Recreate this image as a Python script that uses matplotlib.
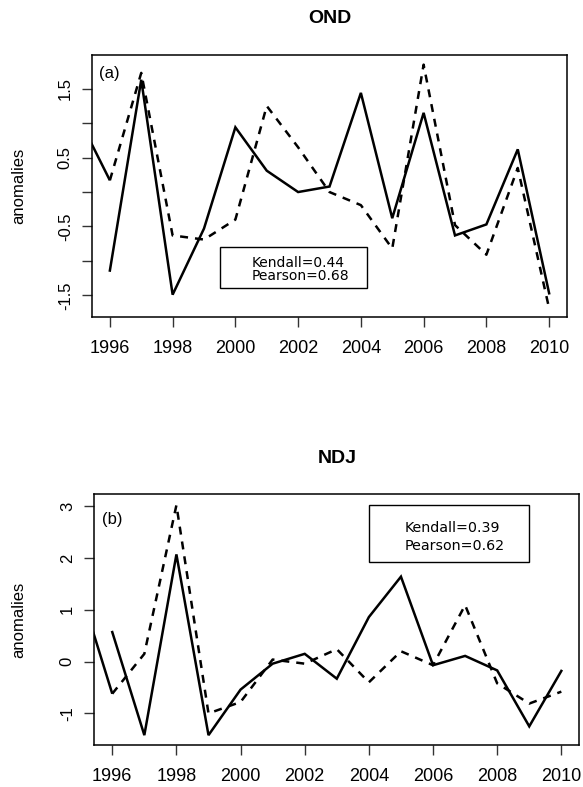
import matplotlib
matplotlib.use("Agg")
import matplotlib.pyplot as plt
from matplotlib.patches import Rectangle
import numpy as np

plt.rcParams['font.family'] = ['Liberation Sans', 'DejaVu Sans']

# ---------------- data ----------------
years = list(range(1996, 2011))
lead_years = [1995, 1996]
xtick_years = [1996, 1998, 2000, 2002, 2004, 2006, 2008, 2010]

ond_solid = [-1.14, 1.63, -1.49, -0.53, 0.94, 0.31, 0.00, 0.08, 1.44, -0.38, 1.15, -0.63, -0.47, 0.62, -1.47]
ond_dashed = [0.17, 1.73, -0.63, -0.69, -0.40, 1.25, 0.65, 0.00, -0.19, -0.82, 1.85, -0.48, -0.91, 0.35, -1.69]
ond_lead = [1.08, 0.17]
ond_yticks = [-1.5, -1.0, -0.5, 0.0, 0.5, 1.0, 1.5]
ond_yticklabels = ['-1.5', '', '-0.5', '', '0.5', '', '1.5']
ond_stats = ['Kendall=0.44', 'Pearson=0.68']

ndj_solid = [0.57, -1.42, 2.07, -1.42, -0.54, -0.04, 0.15, -0.33, 0.86, 1.64, -0.07, 0.11, -0.17, -1.25, -0.18]
ndj_dashed = [-0.62, 0.15, 3.02, -1.00, -0.78, 0.04, -0.04, 0.24, -0.40, 0.20, -0.07, 1.09, -0.42, -0.81, -0.58]
ndj_lead = [1.38, -0.62]
ndj_yticks = [-1, 0, 1, 2, 3]
ndj_yticklabels = ['-1', '0', '1', '2', '3']
ndj_stats = ['Kendall=0.39', 'Pearson=0.62']

W, H = 583, 787
fig = plt.figure(figsize=(W / 100, H / 100), dpi=100)


def px_axes(left, right, top, bottom):
    return fig.add_axes([left / W, 1 - bottom / H, (right - left) / W, (bottom - top) / H])


def panel(ax, solid, dashed, lead, ylim, yticks, yticklabels):
    lw = 1.8
    ax.plot(lead_years, lead, color='black', lw=lw, solid_capstyle='butt')
    ax.plot(years, solid, color='black', lw=lw, solid_joinstyle='miter')
    ax.plot(years, dashed, color='black', lw=lw, linestyle=(0, (3.2, 2.8)))
    ax.set_xlim(1995.44, 2010.56)
    ax.set_ylim(*ylim)
    ax.set_xticks(xtick_years)
    ax.set_xticklabels([str(y) for y in xtick_years])
    ax.set_yticks(yticks)
    ax.set_yticklabels(yticklabels, rotation=90, va='center')
    ax.tick_params(axis='both', direction='out', length=7, width=1.0, color='#333333')
    ax.tick_params(axis='x', labelsize=13, pad=9.5)
    ax.tick_params(axis='y', labelsize=12, pad=7)
    for s in ax.spines.values():
        s.set_linewidth(1.1)
    ax.set_ylabel('anomalies', fontsize=12)


# -------- panel (a) --------
ax1 = px_axes(92.3, 566.7, 55, 316.7)
panel(ax1, ond_solid, ond_dashed, ond_lead, (-1.81, 1.99), ond_yticks, ond_yticklabels)
ax1.yaxis.set_label_coords(-0.14, 0.5)
ax1.text(0.0148, 0.931, '(a)', transform=ax1.transAxes, ha='left', va='center', fontsize=12)
ax1.add_patch(Rectangle((0.269, 0.111), 0.578 - 0.269, 0.265 - 0.111, transform=ax1.transAxes,
                        fill=False, lw=1.0, ec='black'))
ax1.text(0.336, 0.191, ond_stats[0], transform=ax1.transAxes, ha='left', va='baseline',
         fontsize=10, family='DejaVu Sans')
ax1.text(0.336, 0.140, ond_stats[1], transform=ax1.transAxes, ha='left', va='baseline',
         fontsize=10, family='DejaVu Sans')
fig.text(329.5 / W, 1 - 23 / H, 'OND', ha='center', va='baseline', fontsize=14, fontweight='bold')

# -------- panel (b) --------
ax2 = px_axes(94.3, 579.3, 494.3, 745)
panel(ax2, ndj_solid, ndj_dashed, ndj_lead, (-1.61, 3.23), ndj_yticks, ndj_yticklabels)
ax2.yaxis.set_label_coords(-0.14, 0.5)
ax2.text(0.0153, 0.8975, '(b)', transform=ax2.transAxes, ha='left', va='center', fontsize=12)
ax2.add_patch(Rectangle((0.566, 0.731), 0.897 - 0.566, 0.957 - 0.731, transform=ax2.transAxes,
                        fill=False, lw=1.0, ec='black'))
ax2.text(0.639, 0.851, ndj_stats[0], transform=ax2.transAxes, ha='left', va='baseline',
         fontsize=10.3, family='DejaVu Sans')
ax2.text(0.639, 0.778, ndj_stats[1], transform=ax2.transAxes, ha='left', va='baseline',
         fontsize=10.3, family='DejaVu Sans')
fig.text(336.8 / W, 1 - 463.3 / H, 'NDJ', ha='center', va='baseline', fontsize=14, fontweight='bold')

fig.savefig('out.png', dpi=100, facecolor='white')
